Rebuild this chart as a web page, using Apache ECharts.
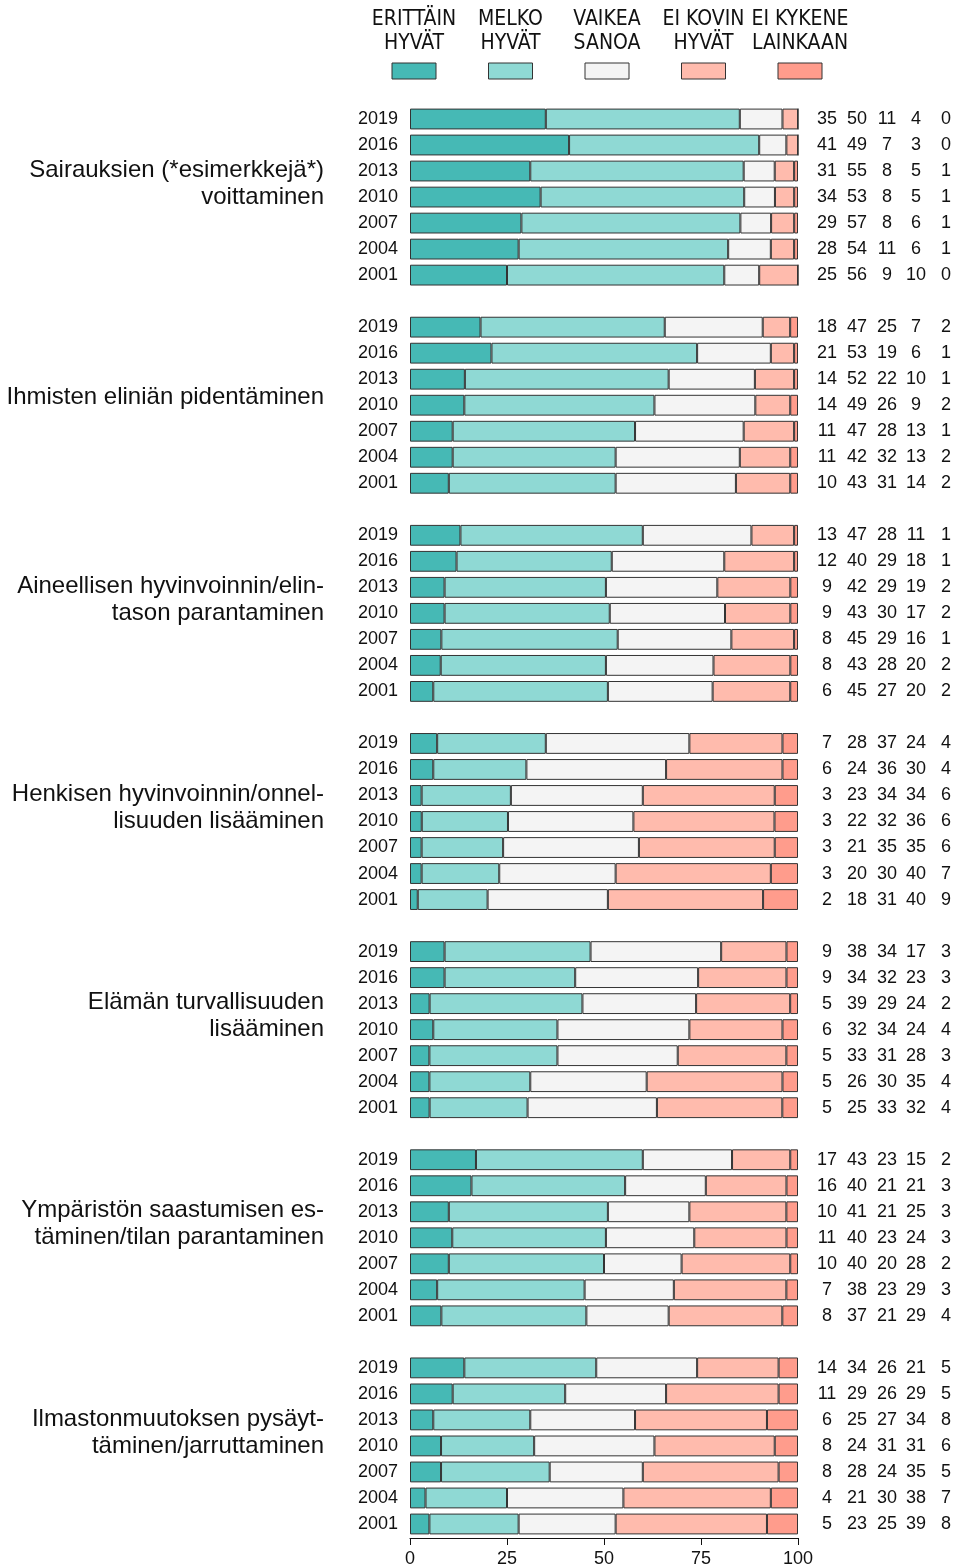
<!DOCTYPE html>
<html>
<head>
<meta charset="utf-8">
<script src="https://cdn.jsdelivr.net/npm/echarts@6/dist/echarts.min.js"></script>
<style>
  html, body { margin: 0; padding: 0; background: #fff; }
  #chart { width: 958px; height: 1568px; }
</style>
</head>
<body>
<div id="chart"></div>
<script>
// vastausluokat
const answerNames = ['ERITTÄIN\nHYVÄT', 'MELKO\nHYVÄT', 'VAIKEA\nSANOA', 'EI KOVIN\nHYVÄT', 'EI KYKENE\nLAINKAAN']
const colors = ['#46b9b5', '#8fd9d4', '#f4f4f4', '#ffbbad', '#ff9c8c']

const years = ['2019', '2016', '2013', '2010', '2007', '2004', '2001']

const groupTitles = [
  'Sairauksien (*esimerkkejä*)\nvoittaminen',
  'Ihmisten eliniän pidentäminen',
  'Aineellisen hyvinvoinnin/elin-\ntason parantaminen',
  'Henkisen hyvinvoinnin/onnel-\nlisuuden lisääminen',
  'Elämän turvallisuuden\nlisääminen',
  'Ympäristön saastumisen es-\ntäminen/tilan parantaminen',
  'Ilmastonmuutoksen pysäyt-\ntäminen/jarruttaminen'
]

// prosentit: rivi = vuosi, sarakkeet = vastausluokat
const sairaudet = [
  [35, 50, 11, 4, 0], [41, 49, 7, 3, 0], [31, 55, 8, 5, 1], [34, 53, 8, 5, 1],
  [29, 57, 8, 6, 1], [28, 54, 11, 6, 1], [25, 56, 9, 10, 0]
]
const elinika = [
  [18, 47, 25, 7, 2], [21, 53, 19, 6, 1], [14, 52, 22, 10, 1], [14, 49, 26, 9, 2],
  [11, 47, 28, 13, 1], [11, 42, 32, 13, 2], [10, 43, 31, 14, 2]
]
const aineellinen = [
  [13, 47, 28, 11, 1], [12, 40, 29, 18, 1], [9, 42, 29, 19, 2], [9, 43, 30, 17, 2],
  [8, 45, 29, 16, 1], [8, 43, 28, 20, 2], [6, 45, 27, 20, 2]
]
const henkinen = [
  [7, 28, 37, 24, 4], [6, 24, 36, 30, 4], [3, 23, 34, 34, 6], [3, 22, 32, 36, 6],
  [3, 21, 35, 35, 6], [3, 20, 30, 40, 7], [2, 18, 31, 40, 9]
]
const turvallisuus = [
  [9, 38, 34, 17, 3], [9, 34, 32, 23, 3], [5, 39, 29, 24, 2], [6, 32, 34, 24, 4],
  [5, 33, 31, 28, 3], [5, 26, 30, 35, 4], [5, 25, 33, 32, 4]
]
const ymparisto = [
  [17, 43, 23, 15, 2], [16, 40, 21, 21, 3], [10, 41, 21, 25, 3], [11, 40, 23, 24, 3],
  [10, 40, 20, 28, 2], [7, 38, 23, 29, 3], [8, 37, 21, 29, 4]
]
const ilmasto = [
  [14, 34, 26, 21, 5], [11, 29, 26, 29, 5], [6, 25, 27, 34, 8], [8, 24, 31, 31, 6],
  [8, 28, 24, 35, 5], [4, 21, 30, 38, 7], [5, 23, 25, 39, 8]
]
const groups = [sairaudet, elinika, aineellinen, henkinen, turvallisuus, ymparisto, ilmasto]

// rivit: ryhmät peräkkäin, tyhjä rivi väliin
const yearLabels = []
const titleLabels = []
const rows = []
groups.forEach((g, gi) => {
  if (gi > 0) {
    yearLabels.push('')
    titleLabels.push('')
    rows.push(null)
  }
  g.forEach((r, ri) => {
    yearLabels.push(years[ri])
    titleLabels.push(ri === 3 ? groupTitles[gi] : '')
    rows.push(r)
  })
})

const font = "'Liberation Sans', Arial, sans-serif"

// pylväät skaalataan 100 %:iin
const series = answerNames.map((name, k) => ({
  name: name,
  type: 'bar',
  stack: 'all',
  barWidth: '80%',
  itemStyle: { color: colors[k], borderColor: '#333', borderWidth: 1 },
  data: rows.map(r => {
    if (!r) return '-'
    const sum = r.reduce((a, b) => a + b, 0)
    return r[k] / sum * 100
  })
}))

// oikean reunan lukusarakkeet
const columnMargins = [29, 59, 89, 118, 148]
const valueAxes = columnMargins.map((m, k) => ({
  type: 'category',
  position: 'right',
  inverse: true,
  data: rows.map(r => (r ? String(r[k]) : '')),
  axisLine: { show: false },
  axisTick: { show: false },
  axisLabel: { margin: m, align: 'center', fontSize: 18, color: '#111', fontFamily: font }
}))

// selite: teksti laatikon yläpuolella
const legendGraphics = []
answerNames.forEach((name, k) => {
  const cx = 414 + k * 96.5
  legendGraphics.push({
    type: 'text',
    x: cx,
    y: 8,
    style: {
      text: name,
      align: 'center',
      verticalAlign: 'top',
      fontSize: 21,
      lineHeight: 24,
      fontFamily: "'Liberation Sans Narrow', 'DejaVu Sans Condensed', Arial, sans-serif",
      fill: '#111'
    }
  })
  legendGraphics.push({
    type: 'rect',
    x: cx - 22,
    y: 63,
    shape: { width: 44, height: 16 },
    style: { fill: colors[k], stroke: '#333', lineWidth: 1 }
  })
})

const option = {
  animation: false,
  backgroundColor: '#fff',
  grid: { left: 410, right: 160, top: 106, bottom: 31, containLabel: false },
  xAxis: {
    type: 'value',
    min: 0,
    max: 100,
    interval: 25,
    offset: 1,
    axisLine: { show: true, lineStyle: { color: '#111', width: 1 } },
    axisTick: { show: true, length: 7, lineStyle: { color: '#111' } },
    axisLabel: { fontSize: 18, color: '#111', margin: 12, fontFamily: font },
    splitLine: { show: false }
  },
  yAxis: [
    {
      type: 'category',
      inverse: true,
      data: yearLabels,
      axisLine: { show: false },
      axisTick: { show: false },
      axisLabel: { margin: 12, fontSize: 18, color: '#111', fontFamily: font }
    },
    {
      type: 'category',
      position: 'left',
      inverse: true,
      data: titleLabels,
      axisLine: { show: false },
      axisTick: { show: false },
      axisLabel: {
        margin: 86,
        fontSize: 24,
        lineHeight: 27,
        color: '#111',
        align: 'right',
        fontFamily: font,
        interval: 0,
        // tyhjä rivi loppuun nostaa otsikkoa hieman ylöspäin
        formatter: v => (v ? v + (v.indexOf('\n') >= 0 ? '\n{gap| }' : '\n{gap1| }') : ''),
        rich: {
          gap: { fontSize: 10, lineHeight: 27 },
          gap1: { fontSize: 10, lineHeight: 16 }
        }
      }
    }
  ].concat(valueAxes),
  graphic: legendGraphics,
  series: series
}

const chart = echarts.init(document.getElementById('chart'))
chart.setOption(option)
</script>
</body>
</html>
